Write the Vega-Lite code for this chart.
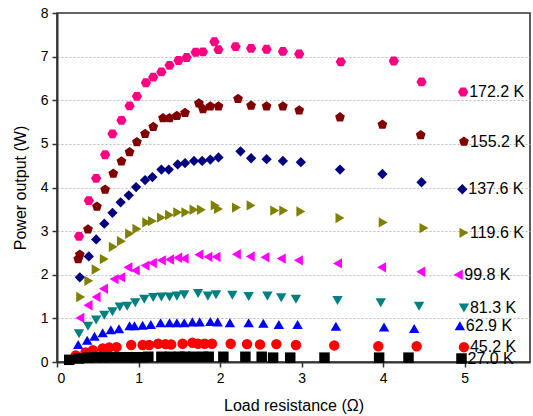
{
  "$schema": "https://vega.github.io/schema/vega-lite/v6.json",
  "width": 473,
  "height": 349,
  "autosize": "none",
  "padding": {"left": 57, "top": 13, "right": 3, "bottom": 54},
  "config": {
    "view": {"stroke": "#333333", "strokeWidth": 1.6},
    "font": "Liberation Sans",
    "axis": {
      "domainColor": "#333333",
      "domainWidth": 2,
      "tickColor": "#333333",
      "tickWidth": 1.5,
      "labelFont": "Liberation Sans",
      "labelFontSize": 14,
      "labelColor": "#000000",
      "titleFont": "Liberation Sans",
      "titleFontSize": 16,
      "titleFontWeight": "normal",
      "titleColor": "#000000"
    }
  },
  "data": {
    "values": [
      {"s": "172.2 K", "x": 0.27, "y": 2.88}, {"s": "172.2 K", "x": 0.39, "y": 3.70}, {"s": "172.2 K", "x": 0.48, "y": 4.21}, {"s": "172.2 K", "x": 0.59, "y": 4.75}, {"s": "172.2 K", "x": 0.68, "y": 5.23}, {"s": "172.2 K", "x": 0.79, "y": 5.54}, {"s": "172.2 K", "x": 0.89, "y": 5.87}, {"s": "172.2 K", "x": 0.98, "y": 6.09}, {"s": "172.2 K", "x": 1.09, "y": 6.40}, {"s": "172.2 K", "x": 1.18, "y": 6.53}, {"s": "172.2 K", "x": 1.28, "y": 6.65}, {"s": "172.2 K", "x": 1.38, "y": 6.80}, {"s": "172.2 K", "x": 1.49, "y": 6.91}, {"s": "172.2 K", "x": 1.59, "y": 6.98}, {"s": "172.2 K", "x": 1.70, "y": 7.10}, {"s": "172.2 K", "x": 1.79, "y": 7.11}, {"s": "172.2 K", "x": 1.93, "y": 7.34}, {"s": "172.2 K", "x": 1.98, "y": 7.16}, {"s": "172.2 K", "x": 2.19, "y": 7.23}, {"s": "172.2 K", "x": 2.38, "y": 7.19}, {"s": "172.2 K", "x": 2.57, "y": 7.17}, {"s": "172.2 K", "x": 2.77, "y": 7.12}, {"s": "172.2 K", "x": 2.97, "y": 7.06}, {"s": "172.2 K", "x": 3.48, "y": 6.88}, {"s": "172.2 K", "x": 4.13, "y": 6.90}, {"s": "172.2 K", "x": 4.47, "y": 6.42}, {"s": "172.2 K", "x": 4.98, "y": 6.19},
      {"s": "155.2 K", "x": 0.26, "y": 2.36}, {"s": "155.2 K", "x": 0.28, "y": 2.46}, {"s": "155.2 K", "x": 0.38, "y": 3.04}, {"s": "155.2 K", "x": 0.49, "y": 3.56}, {"s": "155.2 K", "x": 0.59, "y": 3.95}, {"s": "155.2 K", "x": 0.69, "y": 4.32}, {"s": "155.2 K", "x": 0.79, "y": 4.60}, {"s": "155.2 K", "x": 0.89, "y": 4.81}, {"s": "155.2 K", "x": 0.98, "y": 5.04}, {"s": "155.2 K", "x": 1.08, "y": 5.23}, {"s": "155.2 K", "x": 1.18, "y": 5.39}, {"s": "155.2 K", "x": 1.30, "y": 5.59}, {"s": "155.2 K", "x": 1.38, "y": 5.59}, {"s": "155.2 K", "x": 1.47, "y": 5.64}, {"s": "155.2 K", "x": 1.57, "y": 5.71}, {"s": "155.2 K", "x": 1.74, "y": 5.93}, {"s": "155.2 K", "x": 1.79, "y": 5.80}, {"s": "155.2 K", "x": 1.88, "y": 5.86}, {"s": "155.2 K", "x": 1.98, "y": 5.86}, {"s": "155.2 K", "x": 2.22, "y": 6.03}, {"s": "155.2 K", "x": 2.38, "y": 5.88}, {"s": "155.2 K", "x": 2.57, "y": 5.86}, {"s": "155.2 K", "x": 2.77, "y": 5.86}, {"s": "155.2 K", "x": 2.97, "y": 5.77}, {"s": "155.2 K", "x": 3.47, "y": 5.61}, {"s": "155.2 K", "x": 3.99, "y": 5.44}, {"s": "155.2 K", "x": 4.46, "y": 5.20}, {"s": "155.2 K", "x": 4.99, "y": 5.05},
      {"s": "137.6 K", "x": 0.28, "y": 1.94}, {"s": "137.6 K", "x": 0.39, "y": 2.42}, {"s": "137.6 K", "x": 0.48, "y": 2.81}, {"s": "137.6 K", "x": 0.58, "y": 3.17}, {"s": "137.6 K", "x": 0.68, "y": 3.42}, {"s": "137.6 K", "x": 0.78, "y": 3.66}, {"s": "137.6 K", "x": 0.88, "y": 3.82}, {"s": "137.6 K", "x": 0.97, "y": 4.01}, {"s": "137.6 K", "x": 1.08, "y": 4.17}, {"s": "137.6 K", "x": 1.17, "y": 4.24}, {"s": "137.6 K", "x": 1.28, "y": 4.41}, {"s": "137.6 K", "x": 1.37, "y": 4.41}, {"s": "137.6 K", "x": 1.48, "y": 4.53}, {"s": "137.6 K", "x": 1.57, "y": 4.56}, {"s": "137.6 K", "x": 1.68, "y": 4.61}, {"s": "137.6 K", "x": 1.78, "y": 4.61}, {"s": "137.6 K", "x": 1.88, "y": 4.64}, {"s": "137.6 K", "x": 1.98, "y": 4.69}, {"s": "137.6 K", "x": 2.25, "y": 4.83}, {"s": "137.6 K", "x": 2.38, "y": 4.67}, {"s": "137.6 K", "x": 2.57, "y": 4.65}, {"s": "137.6 K", "x": 2.77, "y": 4.61}, {"s": "137.6 K", "x": 2.99, "y": 4.58}, {"s": "137.6 K", "x": 3.47, "y": 4.41}, {"s": "137.6 K", "x": 3.99, "y": 4.31}, {"s": "137.6 K", "x": 4.47, "y": 4.12}, {"s": "137.6 K", "x": 4.97, "y": 3.96},
      {"s": "119.6 K", "x": 0.29, "y": 1.49}, {"s": "119.6 K", "x": 0.39, "y": 1.86}, {"s": "119.6 K", "x": 0.48, "y": 2.12}, {"s": "119.6 K", "x": 0.58, "y": 2.36}, {"s": "119.6 K", "x": 0.69, "y": 2.64}, {"s": "119.6 K", "x": 0.79, "y": 2.77}, {"s": "119.6 K", "x": 0.89, "y": 2.94}, {"s": "119.6 K", "x": 0.98, "y": 3.05}, {"s": "119.6 K", "x": 1.10, "y": 3.20}, {"s": "119.6 K", "x": 1.17, "y": 3.23}, {"s": "119.6 K", "x": 1.28, "y": 3.31}, {"s": "119.6 K", "x": 1.38, "y": 3.37}, {"s": "119.6 K", "x": 1.48, "y": 3.43}, {"s": "119.6 K", "x": 1.58, "y": 3.43}, {"s": "119.6 K", "x": 1.68, "y": 3.49}, {"s": "119.6 K", "x": 1.77, "y": 3.49}, {"s": "119.6 K", "x": 1.94, "y": 3.59}, {"s": "119.6 K", "x": 1.98, "y": 3.51}, {"s": "119.6 K", "x": 2.20, "y": 3.54}, {"s": "119.6 K", "x": 2.38, "y": 3.59}, {"s": "119.6 K", "x": 2.67, "y": 3.47}, {"s": "119.6 K", "x": 2.78, "y": 3.47}, {"s": "119.6 K", "x": 2.99, "y": 3.45}, {"s": "119.6 K", "x": 3.47, "y": 3.30}, {"s": "119.6 K", "x": 4.00, "y": 3.20}, {"s": "119.6 K", "x": 4.50, "y": 3.07}, {"s": "119.6 K", "x": 4.99, "y": 2.96},
      {"s": "99.8 K", "x": 0.28, "y": 1.01}, {"s": "99.8 K", "x": 0.38, "y": 1.30}, {"s": "99.8 K", "x": 0.48, "y": 1.49}, {"s": "99.8 K", "x": 0.57, "y": 1.68}, {"s": "99.8 K", "x": 0.70, "y": 1.90}, {"s": "99.8 K", "x": 0.78, "y": 1.94}, {"s": "99.8 K", "x": 0.87, "y": 2.17}, {"s": "99.8 K", "x": 0.96, "y": 2.10}, {"s": "99.8 K", "x": 1.08, "y": 2.21}, {"s": "99.8 K", "x": 1.17, "y": 2.27}, {"s": "99.8 K", "x": 1.28, "y": 2.33}, {"s": "99.8 K", "x": 1.38, "y": 2.35}, {"s": "99.8 K", "x": 1.48, "y": 2.39}, {"s": "99.8 K", "x": 1.56, "y": 2.37}, {"s": "99.8 K", "x": 1.74, "y": 2.46}, {"s": "99.8 K", "x": 1.85, "y": 2.41}, {"s": "99.8 K", "x": 1.95, "y": 2.41}, {"s": "99.8 K", "x": 2.20, "y": 2.47}, {"s": "99.8 K", "x": 2.37, "y": 2.42}, {"s": "99.8 K", "x": 2.55, "y": 2.40}, {"s": "99.8 K", "x": 2.75, "y": 2.37}, {"s": "99.8 K", "x": 2.96, "y": 2.33}, {"s": "99.8 K", "x": 3.44, "y": 2.26}, {"s": "99.8 K", "x": 3.98, "y": 2.17}, {"s": "99.8 K", "x": 4.46, "y": 2.07}, {"s": "99.8 K", "x": 4.92, "y": 2.00},
      {"s": "81.3 K", "x": 0.27, "y": 0.65}, {"s": "81.3 K", "x": 0.38, "y": 0.82}, {"s": "81.3 K", "x": 0.48, "y": 0.96}, {"s": "81.3 K", "x": 0.58, "y": 1.07}, {"s": "81.3 K", "x": 0.68, "y": 1.15}, {"s": "81.3 K", "x": 0.77, "y": 1.26}, {"s": "81.3 K", "x": 0.86, "y": 1.28}, {"s": "81.3 K", "x": 0.96, "y": 1.36}, {"s": "81.3 K", "x": 1.07, "y": 1.44}, {"s": "81.3 K", "x": 1.18, "y": 1.48}, {"s": "81.3 K", "x": 1.28, "y": 1.49}, {"s": "81.3 K", "x": 1.38, "y": 1.49}, {"s": "81.3 K", "x": 1.47, "y": 1.51}, {"s": "81.3 K", "x": 1.56, "y": 1.54}, {"s": "81.3 K", "x": 1.73, "y": 1.57}, {"s": "81.3 K", "x": 1.85, "y": 1.51}, {"s": "81.3 K", "x": 1.95, "y": 1.54}, {"s": "81.3 K", "x": 2.15, "y": 1.53}, {"s": "81.3 K", "x": 2.35, "y": 1.50}, {"s": "81.3 K", "x": 2.58, "y": 1.51}, {"s": "81.3 K", "x": 2.75, "y": 1.47}, {"s": "81.3 K", "x": 2.93, "y": 1.44}, {"s": "81.3 K", "x": 3.44, "y": 1.41}, {"s": "81.3 K", "x": 3.97, "y": 1.36}, {"s": "81.3 K", "x": 4.44, "y": 1.28}, {"s": "81.3 K", "x": 4.99, "y": 1.24},
      {"s": "62.9 K", "x": 0.26, "y": 0.40}, {"s": "62.9 K", "x": 0.37, "y": 0.50}, {"s": "62.9 K", "x": 0.46, "y": 0.59}, {"s": "62.9 K", "x": 0.56, "y": 0.67}, {"s": "62.9 K", "x": 0.66, "y": 0.74}, {"s": "62.9 K", "x": 0.76, "y": 0.76}, {"s": "62.9 K", "x": 0.89, "y": 0.83}, {"s": "62.9 K", "x": 0.95, "y": 0.83}, {"s": "62.9 K", "x": 1.05, "y": 0.84}, {"s": "62.9 K", "x": 1.15, "y": 0.86}, {"s": "62.9 K", "x": 1.27, "y": 0.90}, {"s": "62.9 K", "x": 1.38, "y": 0.90}, {"s": "62.9 K", "x": 1.47, "y": 0.90}, {"s": "62.9 K", "x": 1.56, "y": 0.90}, {"s": "62.9 K", "x": 1.66, "y": 0.92}, {"s": "62.9 K", "x": 1.75, "y": 0.92}, {"s": "62.9 K", "x": 1.88, "y": 0.93}, {"s": "62.9 K", "x": 1.97, "y": 0.92}, {"s": "62.9 K", "x": 2.12, "y": 0.90}, {"s": "62.9 K", "x": 2.35, "y": 0.90}, {"s": "62.9 K", "x": 2.53, "y": 0.89}, {"s": "62.9 K", "x": 2.72, "y": 0.86}, {"s": "62.9 K", "x": 2.95, "y": 0.86}, {"s": "62.9 K", "x": 3.42, "y": 0.82}, {"s": "62.9 K", "x": 4.01, "y": 0.80}, {"s": "62.9 K", "x": 4.38, "y": 0.77}, {"s": "62.9 K", "x": 4.94, "y": 0.83},
      {"s": "45.2 K", "x": 0.23, "y": 0.15}, {"s": "45.2 K", "x": 0.35, "y": 0.22}, {"s": "45.2 K", "x": 0.44, "y": 0.27}, {"s": "45.2 K", "x": 0.56, "y": 0.31}, {"s": "45.2 K", "x": 0.64, "y": 0.33}, {"s": "45.2 K", "x": 0.73, "y": 0.34}, {"s": "45.2 K", "x": 0.91, "y": 0.39}, {"s": "45.2 K", "x": 1.05, "y": 0.39}, {"s": "45.2 K", "x": 1.13, "y": 0.39}, {"s": "45.2 K", "x": 1.24, "y": 0.42}, {"s": "45.2 K", "x": 1.33, "y": 0.41}, {"s": "45.2 K", "x": 1.40, "y": 0.40}, {"s": "45.2 K", "x": 1.54, "y": 0.42}, {"s": "45.2 K", "x": 1.66, "y": 0.44}, {"s": "45.2 K", "x": 1.73, "y": 0.42}, {"s": "45.2 K", "x": 1.81, "y": 0.42}, {"s": "45.2 K", "x": 1.90, "y": 0.42}, {"s": "45.2 K", "x": 2.13, "y": 0.42}, {"s": "45.2 K", "x": 2.33, "y": 0.41}, {"s": "45.2 K", "x": 2.49, "y": 0.40}, {"s": "45.2 K", "x": 2.69, "y": 0.41}, {"s": "45.2 K", "x": 2.93, "y": 0.39}, {"s": "45.2 K", "x": 3.40, "y": 0.38}, {"s": "45.2 K", "x": 3.94, "y": 0.36}, {"s": "45.2 K", "x": 4.41, "y": 0.36}, {"s": "45.2 K", "x": 4.99, "y": 0.34},
      {"s": "27.0 K", "x": 0.15, "y": 0.05}, {"s": "27.0 K", "x": 0.27, "y": 0.08}, {"s": "27.0 K", "x": 0.38, "y": 0.10}, {"s": "27.0 K", "x": 0.48, "y": 0.11}, {"s": "27.0 K", "x": 0.56, "y": 0.11}, {"s": "27.0 K", "x": 0.64, "y": 0.11}, {"s": "27.0 K", "x": 0.76, "y": 0.11}, {"s": "27.0 K", "x": 0.88, "y": 0.11}, {"s": "27.0 K", "x": 0.97, "y": 0.11}, {"s": "27.0 K", "x": 1.06, "y": 0.11}, {"s": "27.0 K", "x": 1.12, "y": 0.12}, {"s": "27.0 K", "x": 1.28, "y": 0.12}, {"s": "27.0 K", "x": 1.39, "y": 0.12}, {"s": "27.0 K", "x": 1.50, "y": 0.12}, {"s": "27.0 K", "x": 1.57, "y": 0.12}, {"s": "27.0 K", "x": 1.67, "y": 0.12}, {"s": "27.0 K", "x": 1.79, "y": 0.12}, {"s": "27.0 K", "x": 1.86, "y": 0.12}, {"s": "27.0 K", "x": 2.04, "y": 0.12}, {"s": "27.0 K", "x": 2.31, "y": 0.12}, {"s": "27.0 K", "x": 2.51, "y": 0.12}, {"s": "27.0 K", "x": 2.65, "y": 0.10}, {"s": "27.0 K", "x": 2.86, "y": 0.10}, {"s": "27.0 K", "x": 3.28, "y": 0.10}, {"s": "27.0 K", "x": 3.95, "y": 0.10}, {"s": "27.0 K", "x": 4.31, "y": 0.10}, {"s": "27.0 K", "x": 4.96, "y": 0.08}
    ]
  },
  "encoding": {
    "x": {
      "field": "x", "type": "quantitative",
      "scale": {"domain": [0, 5.8], "nice": false, "zero": false},
      "axis": {
        "title": "Load resistance (Ω)",
        "values": [0, 0.5, 1, 1.5, 2, 2.5, 3, 3.5, 4, 4.5, 5, 5.5],
        "format": "d",
        "labelExpr": "datum.value % 1 === 0 ? datum.label : ''",
        "tickSize": {"condition": {"test": "datum.value % 1 !== 0", "value": 3}, "value": 5},
        "grid": false,
        "labelPadding": 4,
        "titlePadding": 12
      }
    },
    "y": {
      "field": "y", "type": "quantitative",
      "scale": {"domain": [0, 8], "nice": false},
      "axis": {
        "title": "Power output (W)",
        "values": [0, 0.5, 1, 1.5, 2, 2.5, 3, 3.5, 4, 4.5, 5, 5.5, 6, 6.5, 7, 7.5, 8],
        "format": "d",
        "labelExpr": "datum.value % 1 === 0 ? datum.label : ''",
        "tickSize": {"condition": {"test": "datum.value % 1 !== 0", "value": 3}, "value": 5},
        "grid": true,
        "gridColor": "#bbbbbb",
        "gridDash": [2, 2],
        "gridWidth": 1,
        "gridOpacity": {"condition": {"test": "datum.value % 1 !== 0 || datum.value === 0 || datum.value === 8", "value": 0}, "value": 1},
        "labelPadding": 4,
        "titlePadding": 12
      }
    }
  },
  "layer": [
    {
      "mark": {"type": "point", "filled": true, "opacity": 1},
      "encoding": {
        "color": {
          "field": "s", "type": "nominal", "legend": null,
          "scale": {
            "domain": ["172.2 K", "155.2 K", "137.6 K", "119.6 K", "99.8 K", "81.3 K", "62.9 K", "45.2 K", "27.0 K"],
            "range": ["#ff0080", "#800000", "#000080", "#808000", "#ff00ff", "#008080", "#0000ff", "#ff0000", "#000000"]
          }
        },
        "shape": {
          "field": "s", "type": "nominal", "legend": null,
          "scale": {
            "domain": ["172.2 K", "155.2 K", "137.6 K", "119.6 K", "99.8 K", "81.3 K", "62.9 K", "45.2 K", "27.0 K"],
            "range": [
              "M-1,0L-0.5,-0.866L0.5,-0.866L1,0L0.5,0.866L-0.5,0.866Z",
              "M0,-1L0.951,-0.309L0.588,0.809L-0.588,0.809L-0.951,-0.309Z",
              "diamond", "triangle-right", "triangle-left", "triangle-down", "triangle-up", "circle", "square"
            ]
          }
        },
        "size": {
          "field": "s", "type": "nominal", "legend": null,
          "scale": {
            "domain": ["172.2 K", "155.2 K", "137.6 K", "119.6 K", "99.8 K", "81.3 K", "62.9 K", "45.2 K", "27.0 K"],
            "range": [105, 110, 110, 135, 135, 135, 135, 95, 80]
          }
        }
      }
    },
    {
      "transform": [
        {"joinaggregate": [{"op": "max", "field": "x", "as": "mx"}], "groupby": ["s"]},
        {"filter": "datum.x === datum.mx"}
      ],
      "mark": {"type": "text", "align": "left", "baseline": "middle", "dx": 6, "fontSize": 16, "font": "Liberation Sans", "color": "#000000"},
      "encoding": {"text": {"field": "s"}}
    }
  ]
}
